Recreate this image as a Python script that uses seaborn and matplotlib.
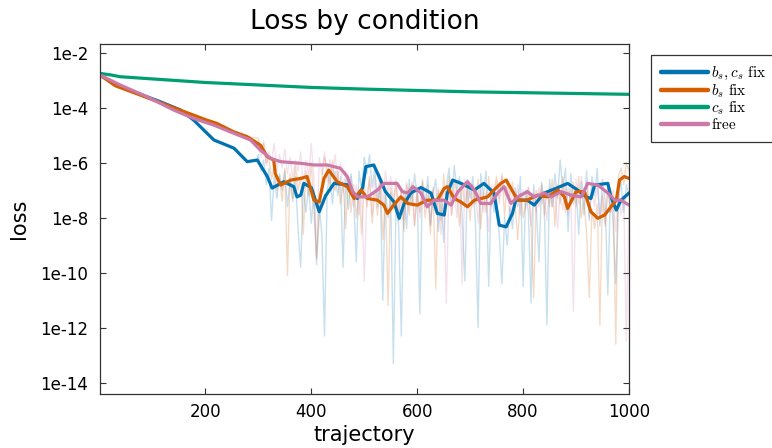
import numpy as np
import pandas as pd
import matplotlib
matplotlib.use("Agg")
import matplotlib.pyplot as plt
import seaborn as sns

# ---------------- data (log10 of loss) ----------------
labels = [r"$b_s, c_s\ \mathrm{fix}$", r"$b_s\ \mathrm{fix}$", r"$c_s\ \mathrm{fix}$", r"$\mathrm{free}$"]
colors = ["#0072B2", "#D55E00", "#009E73", "#CC79A7"]

blue_x = [1, 30, 65, 115, 153, 178, 216, 254, 279, 298, 317, 326, 348, 367, 373,
          380, 386, 400, 415, 427, 443, 468, 487, 497, 503, 518, 531, 540, 556, 566,
          575, 588, 607, 626, 638, 651, 657, 667, 683, 708, 726, 745, 755, 768, 780,
          786, 808, 821, 840, 866, 884, 903, 919, 928, 935, 960, 966, 976, 985, 1000]
blue_y = [-2.81, -3.15, -3.42, -3.78, -4.08, -4.45, -5.17, -5.47, -5.96, -5.9, -6.5, -6.92, -6.69, -6.87, -7.24,
          -7.18, -6.75, -6.9, -7.78, -7.2, -6.75, -6.8, -7.3, -6.9, -6.14, -6.08, -6.63, -7.05, -7.42, -8.02,
          -7.5, -7.1, -6.9, -7.1, -7.84, -7.9, -7.1, -6.63, -6.75, -6.99, -6.75, -7.1, -8.27, -8.33, -7.84,
          -7.36, -7.36, -7.54, -7.1, -6.9, -6.75, -6.99, -7.24, -7.3, -6.81, -6.75, -7.24, -7.72, -7.36, -7.1]

orange_x = [1, 30, 65, 127, 178, 203, 222, 253, 279, 304, 317, 329, 332, 342, 361,
            380, 392, 405, 415, 424, 433, 449, 468, 481, 494, 506, 525, 537, 544, 553,
            569, 582, 600, 619, 638, 651, 657, 670, 682, 695, 708, 733, 745, 758, 768,
            777, 790, 808, 827, 846, 866, 878, 884, 900, 916, 928, 941, 954, 966, 976,
            982, 991, 1000]
orange_y = [-2.81, -3.2, -3.45, -3.9, -4.27, -4.45, -4.57, -4.87, -5.05, -5.36, -5.78, -5.9, -6.39, -6.81, -6.63,
            -6.57, -6.5, -7.36, -7.42, -6.57, -6.27, -6.69, -6.87, -7.3, -6.99, -7.3, -7.36, -7.54, -7.84, -7.6,
            -7.24, -7.48, -7.54, -7.36, -7.36, -6.93, -6.87, -7.3, -7.42, -7.6, -7.36, -7.24, -6.99, -6.75, -6.63,
            -6.93, -7.36, -7.36, -7.18, -7.24, -6.99, -7.24, -7.66, -7.05, -7.05, -7.78, -8.02, -7.9, -7.6, -7.36,
            -6.63, -6.5, -6.57]

green_x = [1, 20, 39, 100, 200, 300, 400, 500, 600, 700, 800, 900, 1000]
green_y = [-2.75, -2.8, -2.87, -2.95, -3.08, -3.17, -3.26, -3.32, -3.37, -3.42, -3.45, -3.48, -3.51]

pink_x = [1, 39, 90, 140, 178, 216, 254, 285, 304, 323, 342, 380, 405, 430, 455,
          468, 478, 487, 506, 525, 537, 562, 572, 582, 592, 607, 619, 632, 651, 664,
          677, 695, 708, 720, 739, 752, 764, 777, 790, 808, 821, 840, 853, 872, 891,
          910, 922, 941, 960, 973, 985, 1000]
pink_y = [-2.81, -3.17, -3.6, -4.08, -4.39, -4.63, -4.93, -5.17, -5.54, -5.84, -5.96, -6.02, -6.08, -6.08, -6.2,
          -6.5, -7.05, -7.24, -7.24, -6.99, -6.75, -6.75, -7.05, -7.1, -6.87, -7.1, -7.6, -7.36, -7.36, -7.54,
          -7.05, -6.69, -6.99, -7.48, -7.48, -7.1, -6.87, -7.48, -7.24, -7.05, -7.24, -7.1, -7.24, -7.05, -7.18,
          -7.24, -6.75, -6.81, -7.1, -7.36, -7.36, -7.54]

# raw (unsmoothed) loss, trajectories 300..1000 every 5
raw_x = list(range(300, 1001, 5))
blue_raw = [-5.7, -6.3, -5.9, -6.8, -6.2, -8.1, -6.5, -7.3, -6.4, -7.0,
            -6.3, -7.6, -6.6, -7.4, -6.5, -8.4, -9.8, -6.9, -7.8, -6.8,
            -8.2, -7.0, -9.7, -7.5, -8.6, -12.3, -7.0, -6.4, -7.5, -6.3,
            -7.2, -6.5, -9.8, -6.6, -7.7, -6.4, -7.3, -9.6, -6.3, -7.0,
            -5.8, -6.4, -5.7, -6.9, -6.2, -7.6, -6.8, -11.0, -7.0, -8.0,
            -7.1, -13.3, -7.5, -8.3, -12.3, -7.0, -8.4, -6.6, -7.5, -6.4,
            -7.2, -11.5, -6.7, -7.6, -6.5, -8.3, -7.1, -6.6, -8.5, -7.2,
            -8.9, -6.9, -6.2, -7.4, -6.1, -7.0, -6.5, -8.0, -10.3, -6.6,
            -7.3, -6.5, -8.2, -12.0, -6.4, -7.2, -6.3, -10.5, -7.0, -7.8,
            -7.3, -8.6, -10.4, -8.0, -9.0, -7.6, -8.4, -6.9, -7.6, -6.5,
            -10.5, -7.0, -7.8, -11.1, -6.8, -7.7, -9.6, -6.7, -7.5, -11.9,
            -6.6, -7.6, -6.4, -7.3, -5.9, -7.0, -6.2, -8.5, -6.4, -7.5,
            -6.9, -8.6, -6.7, -7.9, -6.3, -8.1, -6.5, -7.2, -6.2, -8.3,
            -6.6, -7.4, -10.8, -7.0, -8.2, -10.4, -7.3, -6.7, -7.8, -6.8,
            -7.2]
orange_raw = [-5.1, -5.6, -5.3, -6.0, -5.8, -6.6, -6.1, -7.0, -6.5, -7.4,
              -6.2, -10.1, -6.4, -7.3, -6.1, -7.0, -6.5, -8.6, -6.3, -7.2,
              -6.0, -7.8, -9.5, -8.0, -6.6, -5.8, -6.2, -6.9, -5.9, -7.0,
              -6.3, -7.5, -6.7, -8.4, -6.6, -7.8, -6.8, -8.0, -7.0, -8.6,
              -6.8, -7.6, -6.5, -8.2, -7.0, -7.9, -6.6, -8.8, -7.2, -11.2,
              -6.9, -7.7, -6.7, -8.1, -7.0, -8.5, -6.8, -7.9, -6.7, -8.3,
              -7.1, -7.8, -6.6, -8.0, -7.2, -8.6, -6.9, -10.6, -7.0, -8.1,
              -6.4, -7.5, -6.5, -7.9, -6.6, -7.2, -8.3, -6.7, -7.6, -6.9,
              -8.1, -6.8, -7.5, -6.6, -8.4, -7.1, -7.8, -6.5, -7.6, -7.0,
              -6.5, -7.3, -6.4, -8.0, -6.6, -7.2, -6.7, -7.6, -8.8, -7.1,
              -8.0, -7.5, -6.9, -8.2, -10.9, -7.0, -7.6, -6.8, -7.9, -7.0,
              -7.6, -6.6, -8.3, -6.8, -7.5, -6.5, -7.8, -6.9, -7.4, -6.7,
              -7.6, -6.5, -8.0, -7.3, -8.6, -10.9, -7.7, -8.4, -7.5, -11.9,
              -7.2, -8.3, -6.9, -7.8, -7.0, -12.6, -6.5, -6.2, -6.8, -6.0,
              -6.3]
pink_raw = [-5.4, -5.8, -5.2, -6.1, -5.6, -5.9, -5.3, -6.3, -5.7, -6.2,
            -5.5, -6.4, -5.8, -6.6, -5.9, -6.3, -5.6, -6.8, -5.9, -6.5,
            -5.3, -6.6, -9.4, -5.8, -6.4, -5.6, -6.7, -5.9, -6.5, -5.7,
            -6.6, -6.0, -7.1, -6.3, -6.9, -6.5, -7.6, -6.8, -7.9, -7.0,
            -10.3, -7.2, -6.6, -7.9, -6.5, -7.3, -6.4, -7.6, -6.3, -7.1,
            -6.5, -7.4, -6.6, -7.8, -7.0, -8.1, -6.7, -7.5, -6.8, -8.3,
            -6.9, -8.0, -7.1, -7.6, -6.8, -8.2, -7.0, -7.7, -6.9, -8.6,
            -7.1, -11.1, -6.8, -7.9, -7.0, -8.0, -6.9, -10.4, -6.6, -7.5,
            -6.8, -7.6, -7.0, -8.2, -6.9, -7.8, -7.1, -8.5, -6.8, -7.4,
            -6.7, -7.5, -6.5, -7.2, -6.9, -8.0, -7.0, -7.6, -6.8, -7.9,
            -7.0, -7.7, -6.9, -8.3, -7.1, -7.8, -6.9, -7.5, -7.2, -8.1,
            -6.9, -7.6, -7.0, -8.4, -7.1, -7.7, -6.8, -7.9, -7.0, -11.4,
            -6.6, -7.5, -6.5, -7.3, -6.7, -8.0, -6.9, -7.6, -6.8, -7.9,
            -7.1, -8.2, -6.9, -7.8, -7.3, -8.5, -7.0, -7.9, -7.2, -12.5,
            -7.5]

ytick_vals = [1e-14, 1e-12, 1e-10, 1e-8, 1e-6, 1e-4, 1e-2]
ytick_labels = ["1e-14", "1e-12", "1e-10", "1e-8", "1e-6", "1e-4", "1e-2"]
xtick_vals = [200, 400, 600, 800, 1000]

# ---------------- build tables ----------------
smooth = [(blue_x, blue_y), (orange_x, orange_y), (green_x, green_y), (pink_x, pink_y)]
raws = [blue_raw, orange_raw, None, pink_raw]

rows_s, rows_r = [], []
for lab, (xs, ys), raw in zip(labels, smooth, raws):
    for x, y in zip(xs, ys):
        rows_s.append((lab, x, 10.0 ** y))
    if raw is not None:
        for x, y in zip(xs, ys):
            if x < 300:
                rows_r.append((lab, x, 10.0 ** y))
        for x, y in zip(raw_x, raw):
            rows_r.append((lab, x, 10.0 ** y))
df_s = pd.DataFrame(rows_s, columns=["cond", "trajectory", "loss"])
df_r = pd.DataFrame(rows_r, columns=["cond", "trajectory", "loss"])

# ---------------- style ----------------
sns.set_style("ticks")
plt.rcParams["font.family"] = ["DejaVu Sans"]
plt.rcParams["mathtext.fontset"] = "cm"
plt.rcParams["text.color"] = "black"
plt.rcParams["axes.labelcolor"] = "black"

fig = plt.figure(figsize=(7.72, 4.48), dpi=100)
ax = fig.add_axes([100 / 772, 1 - 394 / 448, 529 / 772, 350 / 448])

pal = dict(zip(labels, colors))
sns.lineplot(data=df_r, x="trajectory", y="loss", hue="cond", palette=pal,
             hue_order=[l for l in labels if l in set(df_r["cond"])],
             estimator=None, sort=True, linewidth=1.0, alpha=0.22, legend=False, ax=ax)
sns.lineplot(data=df_s, x="trajectory", y="loss", hue="cond", palette=pal,
             hue_order=labels, estimator=None, sort=True, linewidth=2.3, ax=ax)

ax.set_yscale("log")
ax.set_xlim(1, 1000)
ax.set_ylim(10 ** -14.41, 10 ** -1.68)
ax.set_yticks(ytick_vals)
ax.set_yticklabels(ytick_labels)
ax.yaxis.set_minor_locator(matplotlib.ticker.NullLocator())
ax.set_xticks(xtick_vals)
ax.set_xticklabels([str(v) for v in xtick_vals])

ax.tick_params(axis="both", which="major", direction="in", top=True, right=True,
               length=4, width=0.8, color="#333333", labelsize=12, labelcolor="black")
ax.tick_params(axis="y", pad=8.5)
ax.tick_params(axis="x", pad=6.5)
for sp in ax.spines.values():
    sp.set_visible(True)
    sp.set_color("#333333")
    sp.set_linewidth(0.9)

ax.set_xlabel("trajectory", fontsize=15, labelpad=3, color="black")
ax.set_ylabel("loss", fontsize=15, labelpad=8, color="black")
ax.set_title("Loss by condition", fontsize=19, pad=11, color="black")

handles, _ = ax.get_legend_handles_labels()
for h in handles:
    h.set_linewidth(3.2)
leg = ax.legend(handles, labels, loc="upper left", bbox_to_anchor=(651 / 772, 1 - 55 / 448),
                bbox_transform=fig.transFigure, frameon=True, fancybox=False,
                edgecolor="#333333", framealpha=1, fontsize=11, borderaxespad=0,
                handlelength=3.1, handletextpad=0.15, labelspacing=0.0, borderpad=0.65)
leg.get_frame().set_linewidth(0.9)
for t in leg.get_texts():
    t.set_color("black")

fig.savefig("out.png", dpi=100)
